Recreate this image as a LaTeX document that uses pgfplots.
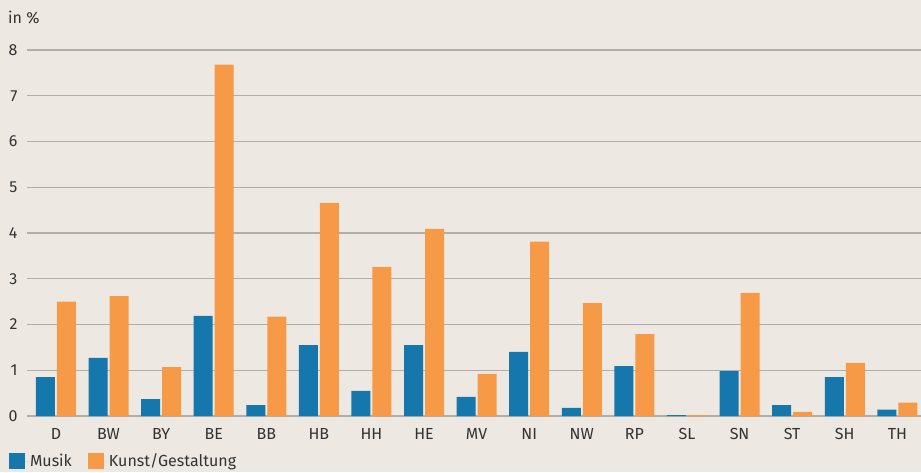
\documentclass[border=0pt]{standalone}
\usepackage{fontspec}
\setmainfont{Fira Sans}
\usepackage{pgfplots}
\pgfplotsset{compat=1.18}
\definecolor{bg}{HTML}{EDE9E2}
\definecolor{cblue}{HTML}{1577AB}
\definecolor{corange}{HTML}{F79A48}
\definecolor{cgrid}{HTML}{B0AEAB}
\definecolor{ctext}{HTML}{333333}
\begin{document}
\begin{tikzpicture}[x=1pt,y=1pt]
\fill[bg] (0,0) rectangle (921,472);
\useasboundingbox (0,0) rectangle (921,472);
\node[anchor=west,font=\fontsize{16}{19}\selectfont,text=ctext,inner sep=0pt] at (8,454) {in \%};
\begin{axis}[
  at={(27pt,56pt)}, anchor=south west,
  scale only axis, width=894pt, height=366pt,
  xmin=-0.55, xmax=16.45, ymin=0, ymax=8,
  ybar=2pt, bar width=19pt,
  axis line style={draw=none},
  major tick length=0pt,
  ytick={0,1,...,8},
  ymajorgrids, grid style={cgrid, line width=1.4pt},
  xtick={0,...,16},
  xticklabels={D,BW,BY,BE,BB,HB,HH,HE,MV,NI,NW,RP,SL,SN,ST,SH,TH},
  tick label style={font=\fontsize{16}{19}\selectfont, text=ctext},
  /pgf/number format/assume math mode=true,
  yticklabel style={anchor=east, xshift=-6pt},
  xticklabel style={anchor=north, yshift=-9pt},
  legend style={at={(axis description cs:0,0)}, anchor=north west, xshift=-18pt, yshift=-36pt,
    draw=none, fill=none, font=\fontsize{16}{19}\selectfont, text=ctext,
    inner sep=0pt, outer sep=0pt,
    legend columns=2, /tikz/every even column/.append style={column sep=14pt}},
  legend image code/.code={\fill[#1] (0pt,-8pt) rectangle (16pt,8pt); \path (0pt,0pt) -- (19pt,0pt);},
]
\addplot[fill=cblue, draw=none] coordinates {
(0,0.85) (1,1.27) (2,0.37) (3,2.19) (4,0.24) (5,1.55) (6,0.55) (7,1.55) (8,0.42)
(9,1.40) (10,0.18) (11,1.09) (12,0.02) (13,0.98) (14,0.24) (15,0.85) (16,0.14)};
\addplot[fill=corange, draw=none] coordinates {
(0,2.50) (1,2.62) (2,1.07) (3,7.68) (4,2.17) (5,4.66) (6,3.26) (7,4.09) (8,0.92)
(9,3.81) (10,2.47) (11,1.79) (12,0.02) (13,2.69) (14,0.09) (15,1.16) (16,0.29)};
\legend{Musik, Kunst/Gestaltung}
\end{axis}
\end{tikzpicture}
\end{document}
